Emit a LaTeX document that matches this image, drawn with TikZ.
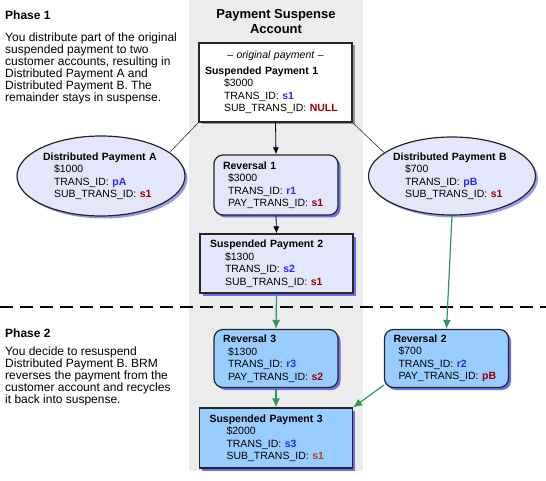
\documentclass[tikz,border=0pt]{standalone}
\usepackage{fontspec}
\setmainfont{Liberation Sans}
\usetikzlibrary{arrows.meta,shapes.geometric,shadows}

\definecolor{bandgray}{RGB}{236,236,236}
\definecolor{phaseone}{RGB}{228,230,250}
\definecolor{phasetwo}{RGB}{153,204,255}
\definecolor{shadowblue}{RGB}{110,110,240}
\definecolor{shadowgray}{RGB}{150,150,150}
\definecolor{idblue}{RGB}{40,40,255}
\definecolor{idred}{RGB}{153,0,0}
\definecolor{idbrown}{RGB}{170,70,34}
\definecolor{flowgreen}{RGB}{46,150,96}

\newcommand{\blueid}[1]{\textcolor{idblue}{\textbf{#1}}}
\newcommand{\redid}[1]{\textcolor{idred}{\textbf{#1}}}

\begin{document}
\begin{tikzpicture}[x=1pt, y=-1pt,
    payrect/.style={rectangle, draw=black!85, line width=1.2pt, minimum width=153pt, minimum height=59pt,
        inner xsep=10pt, inner ysep=0pt, text width=133pt, align=left,
        font=\fontsize{10.5}{12.5}\selectfont,
        drop shadow={shadow xshift=2.5pt, shadow yshift=-2.5pt, fill=shadowblue, opacity=1}},
    revbox/.style={rectangle, rounded corners=9pt, draw=black!85, line width=1.2pt, minimum width=124pt, minimum height=58pt,
        inner xsep=9pt, inner ysep=0pt, text width=106pt, align=left,
        font=\fontsize{10.5}{12.5}\selectfont,
        drop shadow={shadow xshift=2.5pt, shadow yshift=-2.5pt, fill=shadowblue, opacity=1}},
    distell/.style={ellipse, draw=black!85, line width=1.2pt, fill=phaseone, minimum width=168pt, minimum height=80pt,
        inner sep=0pt, align=left, font=\fontsize{10.5}{12.5}\selectfont,
        drop shadow={shadow xshift=2.5pt, shadow yshift=-2.5pt, fill=shadowblue!70, opacity=1}},
    phasetext/.style={anchor=north west, inner sep=0pt, align=left, font=\fontsize{12}{12}\selectfont},
    phasehead/.style={anchor=base west, inner sep=0pt, font=\fontsize{12}{12}\selectfont\bfseries},
    arrow/.style={-{Latex[length=7pt,width=6pt]}, line width=0.8pt, black},
    greenarrow/.style={-{Latex[length=9pt,width=8pt]}, line width=1.2pt, flowgreen},
    link/.style={line width=0.6pt, black!80}
]
\useasboundingbox (0,0) rectangle (546,481);

% Suspense account band
\fill[bandgray] (189,0) rectangle (363,471);
\node[align=center, font=\fontsize{13}{15}\selectfont\bfseries] (title) at (276,21.5) {Payment Suspense\\Account};

% Phase texts
\node[phasehead] (phase1) at (5,19.5) {Phase 1};
\node[phasetext] (phase1txt) at (5,32.3) {You distribute part of the original\\suspended payment to two\\customer accounts, resulting in\\Distributed Payment A and\\Distributed Payment B. The\\remainder stays in suspense.};
\node[phasehead] (phase2) at (5,337.5) {Phase 2};
\node[phasetext] (phase2txt) at (5,346.8) {You decide to resuspend\\Distributed Payment B. BRM\\reverses the payment from the\\customer account and recycles\\it back into suspense.};

% Separator between the phases
\draw[line width=1.2pt, dash pattern=on 13pt off 7pt] (0,307) -- (546,307);

% Phase 1 payments
\node[payrect, fill=white, minimum height=79pt,
      drop shadow={shadow xshift=2.5pt, shadow yshift=-2.5pt, fill=shadowgray, opacity=1}] (orig) at (275.5,82.5)
    {\makebox[\linewidth][c]{\textit{-- original payment --}}\\[3pt]
     \hspace*{-4pt}\textbf{Suspended Payment 1}\\
     \hspace*{15pt}\$3000\\
     \hspace*{15pt}TRANS\_ID: \blueid{s1}\\
     \hspace*{15pt}SUB\_TRANS\_ID: \redid{NULL}};
\node[distell, text width=116pt] (distA) at (101,176)
    {\textbf{Distributed Payment A}\\
     \hspace*{11pt}\$1000\\
     \hspace*{11pt}TRANS\_ID: \blueid{pA}\\
     \hspace*{11pt}SUB\_TRANS\_ID: \redid{s1}};
\node[distell, text width=118pt, minimum width=167pt, minimum height=78pt] (distB) at (452,176)
    {\textbf{Distributed Payment B}\\
     \hspace*{12pt}\$700\\
     \hspace*{12pt}TRANS\_ID: \blueid{pB}\\
     \hspace*{12pt}SUB\_TRANS\_ID: \redid{s1}};
\node[revbox, fill=phaseone, minimum height=60pt] (rev1) at (276,185)
    {\textbf{Reversal 1}\\
     \hspace*{5pt}\$3000\\
     \hspace*{5pt}TRANS\_ID: \blueid{r1}\\
     \hspace*{5pt}PAY\_TRANS\_ID: \redid{s1}};
\node[payrect, fill=phaseone] (sp2) at (276.5,263.5)
    {\textbf{Suspended Payment 2}\\
     \hspace*{15pt}\$1300\\
     \hspace*{15pt}TRANS\_ID: \blueid{s2}\\
     \hspace*{15pt}SUB\_TRANS\_ID: \redid{s1}};

% Phase 2 payments
\node[revbox, fill=phasetwo] (rev3) at (276,358.5)
    {\textbf{Reversal 3}\\
     \hspace*{5pt}\$1300\\
     \hspace*{5pt}TRANS\_ID: \blueid{r3}\\
     \hspace*{5pt}PAY\_TRANS\_ID: \redid{s2}};
\node[revbox, fill=phasetwo, minimum width=123pt] (rev2) at (446.5,358.5)
    {\textbf{Reversal 2}\\
     \hspace*{5pt}\$700\\
     \hspace*{5pt}TRANS\_ID: \blueid{r2}\\
     \hspace*{5pt}PAY\_TRANS\_ID: \redid{pB}};
\node[payrect, fill=phasetwo, minimum height=60pt] (sp3) at (276,438)
    {\textbf{Suspended Payment 3}\\
     \hspace*{17pt}\$2000\\
     \hspace*{17pt}TRANS\_ID: \blueid{s3}\\
     \hspace*{17pt}SUB\_TRANS\_ID: \textcolor{idbrown}{\textbf{s1}}};

% Connectors
\draw[link] (orig.south west) -- (distA.19);
\draw[link] (orig.south east) -- (distB.161);
\draw[arrow] (orig.south) -- (rev1.north);
\draw[arrow] (rev1.south) -- (sp2.north);
\draw[greenarrow] (sp2.south) -- (rev3.north);
\draw[greenarrow] (rev3.south) -- (sp3.north);
\draw[greenarrow] (distB.south) -- (rev2.north);
\draw[greenarrow] (rev2.203) -- (sp3.north east);

\end{tikzpicture}
\end{document}
